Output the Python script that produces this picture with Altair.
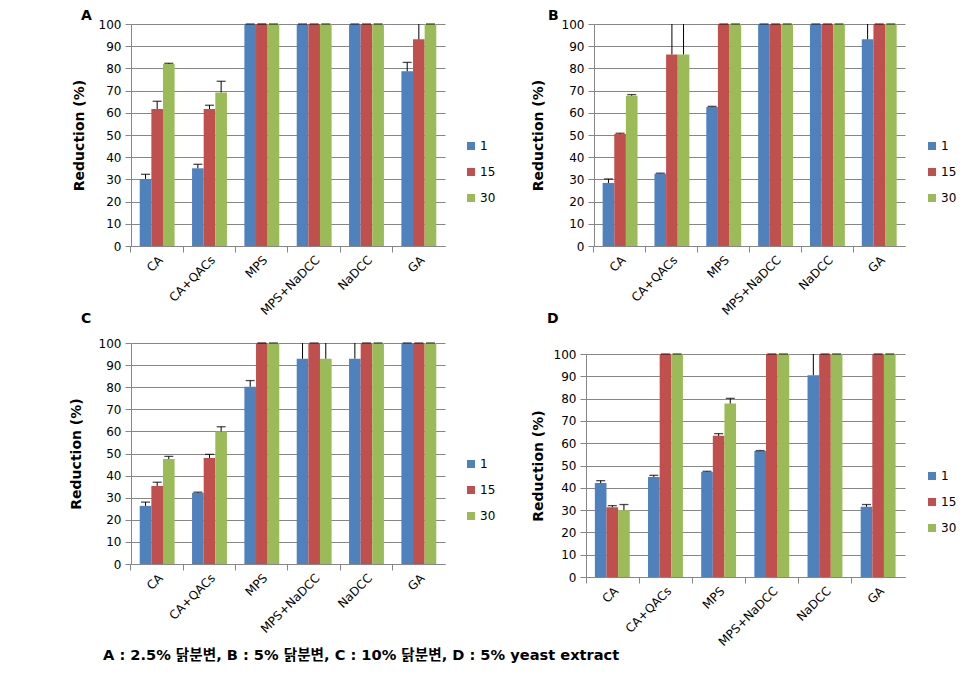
import altair as alt
import pandas as pd

cats = ["CA", "CA+QACs", "MPS", "MPS+NaDCC", "NaDCC", "GA"]
times = ["1", "15", "30"]
colors = ["#4F81BD", "#C0504D", "#9BBB59"]
yticks = [0, 10, 20, 30, 40, 50, 60, 70, 80, 90, 100]

# Panel A : 2.5% chicken feces
a_1 = [30.2, 35.0, 100, 100, 100, 78.7]
a_1_err = [2.1, 1.8, 0, 0, 0, 4.0]
a_15 = [61.7, 61.7, 100, 100, 100, 93.1]
a_15_err = [3.5, 1.7, 0, 0, 0, 10]
a_30 = [82.0, 69.2, 100, 100, 100, 100]
a_30_err = [0.3, 5.0, 0, 0, 0, 0]

# Panel B : 5% chicken feces
b_1 = [28.4, 32.6, 62.6, 100, 100, 93.1]
b_1_err = [1.8, 0.2, 0.3, 0, 0, 10]
b_15 = [50.5, 86.3, 100, 100, 100, 100]
b_15_err = [0.3, 20, 0, 0, 0, 0]
b_30 = [67.7, 86.3, 100, 100, 100, 100]
b_30_err = [0.5, 20, 0, 0, 0, 0]

# Panel C : 10% chicken feces
c_1 = [26.3, 32.2, 80.2, 92.9, 92.9, 100]
c_1_err = [1.7, 0.3, 2.8, 10, 10, 0]
c_15 = [35.3, 48.0, 100, 100, 100, 100]
c_15_err = [1.7, 1.6, 0, 0, 0, 0]
c_30 = [47.5, 60.0, 100, 92.9, 100, 100]
c_30_err = [1.2, 2.1, 0, 10, 0, 0]

# Panel D : 5% yeast extract
d_1 = [42.1, 44.8, 47.1, 56.5, 90.5, 31.5]
d_1_err = [1.1, 0.8, 0.3, 0.2, 12, 1.0]
d_15 = [31.3, 100, 63.3, 100, 100, 100]
d_15_err = [0.7, 0, 1.0, 0, 0, 0]
d_30 = [30.0, 100, 77.8, 100, 100, 100]
d_30_err = [2.5, 0, 2.3, 0, 0, 0]

caption = "A : 2.5% 닭분변, B : 5% 닭분변, C : 10% 닭분변, D : 5% yeast extract"

FONT = "DejaVu Sans"
GRAY = "#868686"


def make_df(series_vals, series_errs):
    rows = []
    for t, vals, errs in zip(times, series_vals, series_errs):
        for c, v, e in zip(cats, vals, errs):
            rows.append({"cat": c, "time": t, "val": v, "hi": v + e})
    return pd.DataFrame(rows)


def panel(df, letter, w, h, tdx, toff, ypad, lx, ly):
    base = alt.Chart(df)
    x = alt.X(
        "cat:N", sort=cats, title=None,
        scale=alt.Scale(paddingInner=1 / 3, paddingOuter=1 / 6),
        axis=alt.Axis(labelAngle=-45, labelFontSize=12, labelFont=FONT,
                      labelColor="#000000", tickSize=6, tickColor=GRAY,
                      domainColor=GRAY, bandPosition=-0.25, labelPadding=2,
                      grid=False, labelOverlap=False),
    )
    xo = alt.XOffset("time:N", sort=times,
                     scale=alt.Scale(paddingInner=0, paddingOuter=0))
    yscale = alt.Scale(domain=[0, 100], nice=False)
    ytitle = "Reduction (%)"
    yaxis = alt.Axis(values=yticks, tickCount=11, labelFontSize=12,
                     labelFont=FONT, labelColor="#000000", tickSize=6,
                     tickColor=GRAY, domainColor=GRAY, gridColor=GRAY,
                     labelPadding=4, labelOverlap=False, titleFont=FONT,
                     titleFontSize=14, titleFontWeight="bold",
                     titleColor="#000000", titlePadding=ypad, title=ytitle)
    bars = base.mark_bar().encode(
        x=x, xOffset=xo,
        y=alt.Y("val:Q", scale=yscale, axis=yaxis),
        color=alt.Color(
            "time:N", sort=times,
            scale=alt.Scale(domain=times, range=colors),
            legend=alt.Legend(title=None, orient="none", legendX=lx,
                              legendY=ly, symbolType="square",
                              symbolSize=64, symbolStrokeWidth=0,
                              labelFont=FONT, labelFontSize=12,
                              labelColor="#000000", rowPadding=14,
                              labelOffset=3, padding=0),
        ),
    )
    rules = base.mark_rule(color="black", clip=True, strokeWidth=1).encode(
        x=x, xOffset=xo,
        y=alt.Y("val:Q", scale=yscale, axis=yaxis),
        y2="hi:Q",
    )
    caps = base.transform_filter("datum.hi <= 100.5").mark_tick(
        color="black", orient="horizontal", size=9, thickness=1.3
    ).encode(
        x=x, xOffset=xo,
        y=alt.Y("hi:Q", scale=yscale, axis=yaxis),
    )
    return alt.layer(bars, rules, caps).properties(
        width=w, height=h,
        title=alt.Title(letter, anchor="start", frame="group", dx=tdx,
                        offset=toff, fontSize=14, font=FONT,
                        fontWeight="bold", color="#000000"),
    )


pA = panel(make_df([a_1, a_15, a_30], [a_1_err, a_15_err, a_30_err]),
           "A", 314, 222, -50, -5, 12, 334, 116)
pB = panel(make_df([b_1, b_15, b_30], [b_1_err, b_15_err, b_30_err]),
           "B", 311, 222, -46, -5, 16, 332, 116)
pC = panel(make_df([c_1, c_15, c_30], [c_1_err, c_15_err, c_30_err]),
           "C", 314, 221, -50, 11, 15, 334, 115)
pD = panel(make_df([d_1, d_15, d_30], [d_1_err, d_15_err, d_30_err]),
           "D", 319, 223, -39, 22, 8, 340, 116)

chart = alt.concat(
    pA, pB, pC, pD, columns=2, align="none",
    spacing=alt.RowColnumber(row=-5, column=35),
).resolve_scale(color="independent").resolve_legend(
    color="independent"
).properties(
    title=alt.Title(caption, orient="bottom", anchor="start", frame="group",
                    dx=-28, offset=0, fontSize=14.6, fontWeight="bold",
                    font="DejaVu Sans, Noto Sans CJK KR", color="#000000"),
    padding={"left": 69, "top": 9, "right": 5, "bottom": 5},
).configure_view(strokeWidth=0)

chart.save("out.html", embed_options={"renderer": "svg", "actions": False})
